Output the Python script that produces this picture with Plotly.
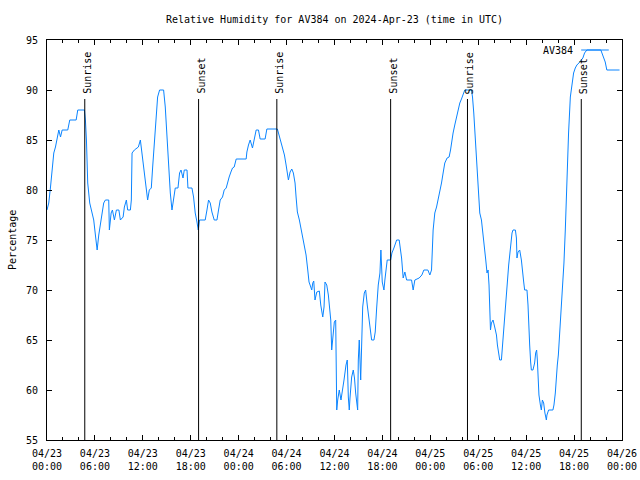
import pandas as pd
import plotly.graph_objects as go

start = pd.Timestamp("2024-04-23 00:00")
station = "AV384"
title_text = "Relative Humidity for AV384 on 2024-Apr-23 (time in UTC)"

# hours since 2024-04-23 00:00 UTC
hours = [0.0, 0.22, 0.44, 0.65, 0.85, 1.06, 1.28, 1.48, 1.69, 1.90, 2.60, 2.85, 3.65, 3.85, 4.69, 4.81, 4.94,
         5.10, 5.35, 5.65, 5.85, 6.06, 6.28, 6.48, 6.69, 6.90, 7.10, 7.31, 7.73, 7.81, 8.03, 8.19, 8.44, 8.69,
         9.0, 9.19, 9.53, 9.69, 9.94, 10.10, 10.44, 10.56, 10.65, 10.94, 11.44, 11.69, 11.90, 12.10, 12.31,
         12.60, 12.81, 13.06, 13.23, 13.44, 13.65, 13.85, 14.10, 14.60, 14.81, 15.03, 15.23, 15.44, 15.65,
         15.85, 16.06, 16.40, 16.60, 16.78, 17.03, 17.19, 17.53, 17.65, 18.15, 18.35, 18.56, 18.78, 18.94,
         19.10, 19.81, 20.03, 20.23, 20.44, 20.65, 20.94, 21.28, 21.48, 21.69, 21.98, 22.19, 22.44, 22.60,
         22.81, 23.03, 23.23, 23.44, 23.69, 24.94, 25.03, 25.23, 25.44, 25.73, 25.94, 26.19, 26.48, 26.69,
         27.31, 27.53, 28.85, 28.98, 29.19, 29.53, 29.73, 29.94, 30.23, 30.44, 30.65, 30.85, 31.06, 31.19,
         31.35, 31.60, 31.81, 32.03, 32.23, 32.44, 32.65, 32.81, 33.03, 33.15, 33.28, 33.40, 33.56, 33.78,
         34.10, 34.28, 34.53, 34.69, 34.81, 35.03, 35.23, 35.38, 35.53, 35.65, 35.78, 35.98, 36.15, 36.23,
         36.28, 36.40, 36.60, 36.81, 37.03, 37.19, 37.44, 37.60, 37.73, 37.85, 37.94, 38.15, 38.35, 38.50,
         38.65, 38.78, 38.90, 38.98, 39.10, 39.28, 39.40, 39.53, 39.73, 39.90, 40.10, 40.31, 40.44, 40.65,
         40.94, 41.10, 41.28, 41.48, 41.69, 41.81, 41.98, 42.19, 42.31, 42.53, 42.60, 43.03, 43.19, 43.44,
         43.78, 44.10, 44.40, 44.60, 44.81, 45.03, 45.65, 45.85, 46.06, 46.60, 46.94, 47.19, 47.69, 47.94,
         48.15, 48.35, 48.56, 48.78, 48.98, 49.19, 49.40, 49.60, 49.81, 50.10, 50.35, 50.53, 50.65, 50.85,
         51.06, 51.28, 51.48, 51.69, 51.90, 52.10, 52.31, 53.15, 53.28, 53.44, 53.60, 53.78, 53.85, 54.03,
         54.19, 54.40, 54.60, 54.81, 54.94, 55.10, 55.23, 55.35, 55.44, 55.53, 55.65, 55.85, 56.06, 56.28,
         56.40, 56.56, 56.69, 56.90, 57.03, 57.19, 57.31, 57.44, 57.53, 57.65, 57.81, 57.94, 58.06, 58.23,
         58.35, 58.65, 58.78, 58.85, 58.98, 59.19, 59.40, 59.53, 59.69, 59.81, 60.10, 60.23, 60.31, 60.44,
         60.56, 60.65, 60.85, 61.06, 61.19, 61.31, 61.40, 61.53, 61.60, 61.78, 61.90, 62.03, 62.19, 62.35,
         62.53, 62.60, 62.81, 63.35, 63.48, 63.65, 63.78, 63.90, 64.03, 64.19, 64.31, 64.48, 64.60, 64.73,
         64.90, 65.03, 65.15, 65.31, 65.53, 65.73, 65.94, 66.15, 66.35, 66.60, 66.90, 67.10, 67.31, 67.60,
         69.35, 69.48, 69.69, 69.90, 70.10, 71.69]

humidity = [78, 78.7, 80.3, 82.3, 83.7, 84.3, 85.3, 86, 85.3, 86, 86, 87, 87, 88, 88, 87, 85,
            80.7, 78.7, 77.8, 77, 75.5, 74, 75.5, 76.7, 77.8, 78.7, 79, 79, 76, 77.7, 78, 77, 78,
            78, 77, 77.3, 78.3, 79, 78, 78, 79, 83.7, 84, 84.3, 85, 83.7, 82, 80.7,
            79, 80, 80.2, 82.3, 85, 87.3, 89.3, 90, 90, 88.3, 85, 81.7, 79.7, 78,
            79.3, 80.2, 80.2, 81.7, 82, 81.2, 82, 82, 80.2, 80.2, 79.3, 77.7, 76.8, 76,
            77, 77, 78, 79, 78.7, 77.8, 77, 77, 78, 79, 79.3, 80, 80.2, 80.8,
            81.3, 81.8, 82.2, 82.3, 83.1, 83.1, 83.8, 84.5, 85, 84.2, 85, 86, 86, 85.1,
            85.1, 86.1, 86.1, 85.7, 85.1, 84.3, 83.5, 82.5, 81, 81.8, 82.1, 81.7, 80.7, 79.3,
            77.8, 77, 76.2, 75.3, 74.3, 73.5, 72, 70.8, 70.3, 70, 70.7, 70.9, 69, 69.8,
            69.9, 68.5, 67.3, 68.3, 70.8, 70.5, 69.5, 68.5, 67, 64, 65.3, 66.8, 67, 62.5,
            58, 59, 60, 59, 60.5, 61, 62.5, 63, 59.3, 58, 59.2, 61.3, 62, 61.2,
            59.7, 58.5, 58, 63, 65, 61, 64.5, 68.3, 69.7, 70, 68.5, 67.3, 66.5, 65,
            65, 65.8, 68.2, 70.5, 71.7, 74, 70.8, 70, 71, 72.7, 73, 73, 73.7, 74.2,
            75, 75, 73.2, 71.2, 71.8, 71, 71, 70, 71, 71.2, 71.5, 72, 72, 71.5,
            72, 76, 77.7, 78.3, 79, 79.7, 80.7, 81.7, 82.7, 83.2, 83.3, 84, 84.7, 85.7,
            86.5, 87.3, 88, 88.7, 89.1, 89.5, 90, 90, 89.3, 87.7, 85.3, 84, 82.3, 80,
            77.7, 77, 75.7, 74.3, 73, 71.7, 72, 70.5, 67.5, 66, 66.7, 67, 66.3, 65.5,
            64.5, 63.7, 63, 63, 64.5, 65.7, 67.2, 68.7, 70.2, 71.5, 72.5, 73.5, 74.5, 75.7,
            76, 76, 75.2, 73.2, 73.8, 74, 73, 71.7, 70.8, 70, 70, 68.5, 66.2, 64.5,
            62.8, 62, 62, 62.7, 63.7, 64, 63, 61, 59.5, 58.5, 58, 59, 58.7, 57.7,
            57, 57.5, 58, 58, 58.5, 59.7, 61.5, 62.5, 63.5, 65.5, 67.5, 68.5, 70.5, 72.7,
            76, 79.3, 82.7, 85.7, 89.3, 90.8, 91.7, 92.2, 92.5, 92.7, 93, 93.2, 93.7, 94,
            94, 93.7, 93.2, 92.8, 92, 92]

# sun events (hours since start)
sun_labels = ["Sunrise", "Sunset", "Sunrise", "Sunset", "Sunrise", "Sunset"]
sun_hours = [4.73, 18.98, 28.78, 43.03, 52.65, 66.90]

y_ticks = [55, 60, 65, 70, 75, 80, 85, 90, 95]

FONT = "DejaVu Sans Mono"
LINE_COLOR = "#0a84ff"
times = start + pd.to_timedelta(hours, unit="h")
sun_times = start + pd.to_timedelta(sun_hours, unit="h")
x_range = [start, start + pd.Timedelta(hours=72)]

fig = go.Figure()
fig.add_trace(go.Scatter(x=times, y=humidity, mode="lines", name=station,
                         line=dict(color=LINE_COLOR, width=1), showlegend=False))
# same series bound to the secondary (time-of-day label) axis, fully transparent
fig.add_trace(go.Scatter(x=times, y=humidity, mode="lines", xaxis="x2", opacity=0,
                         line=dict(width=0), hoverinfo="skip", showlegend=False))

shapes = []
annotations = []
for lab, t in zip(sun_labels, sun_times):
    shapes.append(dict(type="line", xref="x", yref="y", x0=t, x1=t, y0=55, y1=89.1,
                       line=dict(color="black", width=1)))
    annotations.append(dict(x=t, y=89.4, xref="x", yref="y", text=lab, textangle=-90,
                            showarrow=False, xanchor="center", yanchor="bottom", xshift=2,
                            font=dict(family=FONT, size=10, color="black")))

# legend key (gnuplot style: text then line sample)
annotations.append(dict(x=0.918, y=0.975, xref="paper", yref="paper", text=station,
                        showarrow=False, xanchor="right", yanchor="middle",
                        font=dict(family=FONT, size=10, color="black")))
shapes.append(dict(type="line", xref="paper", yref="paper", x0=0.929, x1=0.977, y0=0.975, y1=0.975,
                   line=dict(color=LINE_COLOR, width=1)))
annotations.append(dict(x=-0.061, y=0.5, xref="paper", yref="paper", text="Percentage", textangle=-90,
                        showarrow=False, xanchor="center", yanchor="middle",
                        font=dict(family=FONT, size=10, color="black")))

fig.update_layout(
    width=640, height=480,
    margin=dict(l=47, r=18, t=40, b=40, autoexpand=False),
    paper_bgcolor="white", plot_bgcolor="white",
    font=dict(family=FONT, size=10, color="black"),
    title=dict(text=title_text, x=0.5, xref="paper", y=1 - 19 / 480, yref="container",
               xanchor="center", yanchor="middle", font=dict(family=FONT, size=10)),
    shapes=shapes, annotations=annotations,
    showlegend=False,
    xaxis=dict(type="date", range=x_range, tick0=start, dtick=6 * 3600 * 1000, tickformat="%m/%d",
               ticks="inside", ticklen=5, tickcolor="black", showline=True, linecolor="black",
               linewidth=1, mirror="ticks", showgrid=False, zeroline=False, ticklabelstandoff=4,
               minor=dict(dtick=2 * 3600 * 1000, ticks="inside", ticklen=3, tickcolor="black", showgrid=False),
               tickfont=dict(family=FONT, size=10)),
    xaxis2=dict(type="date", range=x_range, tick0=start, dtick=6 * 3600 * 1000, tickformat="%H:%M",
                overlaying="x", anchor="y", side="bottom", ticks="", showline=False, showgrid=False,
                zeroline=False, ticklabelstandoff=19, tickfont=dict(family=FONT, size=10)),
    yaxis=dict(range=[55, 95], tickvals=y_ticks, ticks="inside", ticklen=5, tickcolor="black",
               showline=True, linecolor="black", linewidth=1, mirror="ticks", showgrid=False,
               zeroline=False, ticklabelstandoff=6, tickfont=dict(family=FONT, size=10)),
)

fig.write_html("out.html", config={"displayModeBar": False},
               post_script="document.body.style.margin='0';")
